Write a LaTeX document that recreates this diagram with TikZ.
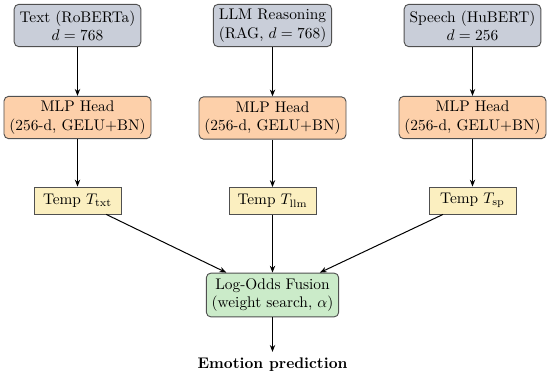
\documentclass[tikz,border=0pt]{standalone}
\usetikzlibrary{arrows.meta}
\definecolor{srcfill}{HTML}{C9CED9}
\definecolor{mlpfill}{HTML}{FDD0AA}
\definecolor{tmpfill}{HTML}{FBEFC0}
\definecolor{fusfill}{HTML}{CBEBC9}
\definecolor{edge}{HTML}{505050}
\begin{document}
\begin{tikzpicture}[x=0.65pt,y=-0.65pt,
  box/.style={draw=edge,line width=0.6pt,align=center,inner xsep=3.5pt,inner ysep=2pt,minimum height=27.5pt},
  srcbox/.style={box,fill=srcfill,rounded corners=3pt},
  mlpbox/.style={box,fill=mlpfill,rounded corners=3pt},
  tmpbox/.style={box,fill=tmpfill,minimum width=56.5pt,minimum height=17.5pt},
  fusbox/.style={box,fill=fusfill,rounded corners=3pt,minimum height=28.5pt},
  arr/.style={-{Stealth[length=4.5pt,width=3.5pt]},line width=0.65pt,black}]
\useasboundingbox (0,0) rectangle (550,377);
\node[srcbox] (txt) at (77.5,25.5) {Text (RoBERTa)\\$d=768$};
\node[srcbox] (llm) at (272.5,25.5) {LLM Reasoning\\(RAG, $d=768$)};
\node[srcbox] (sp) at (472.5,25.5) {Speech (HuBERT)\\$d=256$};
\node[mlpbox] (mtxt) at (77.5,117.5) {MLP Head\\(256-d, GELU+BN)};
\node[mlpbox] (mllm) at (272.5,118) {MLP Head\\(256-d, GELU+BN)};
\node[mlpbox] (msp) at (472.5,117.5) {MLP Head\\(256-d, GELU+BN)};
\node[tmpbox] (ttxt) at (77.5,200.5) {Temp $T_{\mathrm{txt}}$};
\node[tmpbox] (tllm) at (272.5,201) {Temp $T_{\mathrm{llm}}$};
\node[tmpbox] (tsp) at (472.5,200.5) {Temp $T_{\mathrm{sp}}$};
\node[fusbox] (fus) at (272.5,295) {Log-Odds Fusion\\(weight search, $\alpha$)};
\node[anchor=base] (out) at (272.5,368) {\textbf{Emotion prediction}};
\draw[arr] (txt) -- (mtxt);
\draw[arr] (llm) -- (mllm);
\draw[arr] (sp) -- (msp);
\draw[arr] (mtxt) -- (ttxt);
\draw[arr] (mllm) -- (tllm);
\draw[arr] (msp) -- (tsp);
\draw[arr] (ttxt) -- (fus);
\draw[arr] (tllm) -- (fus);
\draw[arr] (tsp) -- (fus);
\draw[arr] (fus) -- (out);
\end{tikzpicture}
\end{document}
